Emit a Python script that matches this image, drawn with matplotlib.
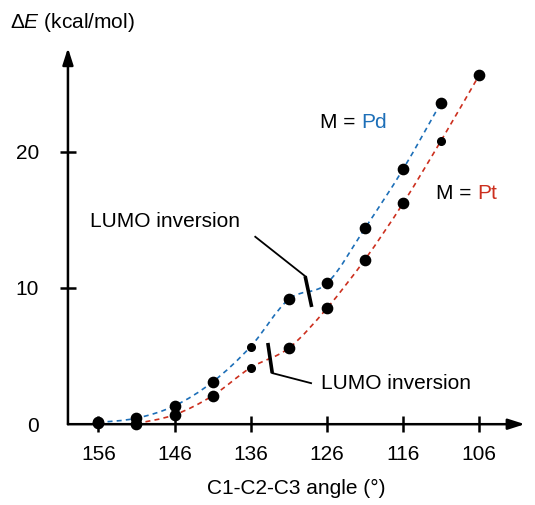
import numpy as np
import matplotlib
matplotlib.use("Agg")
import matplotlib.pyplot as plt
from matplotlib.path import Path
from matplotlib.patches import PathPatch

plt.rcParams['font.family'] = ['Liberation Sans', 'DejaVu Sans']
plt.rcParams['mathtext.fontset'] = 'custom'
plt.rcParams['mathtext.rm'] = 'Liberation Sans'
plt.rcParams['mathtext.it'] = 'Liberation Sans:italic'

# C1-C2-C3 angle (deg) and relative energy (kcal/mol)
pd_angle = [156, 151, 146, 141, 136, 131, 126, 121, 116, 111]
pd_energy = [0.13, 0.44, 1.35, 3.1, 5.7, 9.17, 10.33, 14.37, 18.7, 23.6]
pt_angle = [156, 151, 146, 141, 136, 131, 126, 121, 116, 111, 106]
pt_energy = [0.1, 0.05, 0.69, 2.09, 4.15, 5.58, 8.5, 12.08, 16.2, 20.8, 25.6]
# points drawn with smaller dots
pd_small = [136]
pt_small = [136, 111]

x_ticks = [156, 146, 136, 126, 116, 106]
y_ticks = [0, 10, 20]

pd_color = '#1d6fb8'
pt_color = '#cc2f1e'
fs = 15


def smooth_path(xs, ys):
    # Catmull-Rom curve through the points, as cubic Bezier segments
    p = np.column_stack([xs, ys]).astype(float)
    p = np.vstack([p[0], p, p[-1]])
    verts = [p[1]]
    codes = [Path.MOVETO]
    for i in range(1, len(p) - 2):
        c1 = p[i] + (p[i + 1] - p[i - 1]) / 6
        c2 = p[i + 1] - (p[i + 2] - p[i]) / 6
        verts += [c1, c2, p[i + 1]]
        codes += [Path.CURVE4] * 3
    return Path(verts, codes)


fig = plt.figure(figsize=(5.35, 5.05), dpi=100)
ax = fig.add_axes([0.127, 0.16, 0.854, 0.745])
ax.set_xlim(160, 100)
ax.set_ylim(0, 27.6)

for sp in ax.spines.values():
    sp.set_visible(False)

# axes with arrow heads
arrow = dict(arrowstyle='-|>,head_length=1.0,head_width=0.32', color='black',
             lw=1.8, shrinkA=0, shrinkB=0, mutation_scale=10)
ax.annotate('', xy=(0, 1), xytext=(0, 0), xycoords='axes fraction', arrowprops=arrow)
ax.annotate('', xy=(1, 0), xytext=(0, 0), xycoords='axes fraction', arrowprops=arrow)

# dashed curves through the points
ax.add_patch(PathPatch(smooth_path(pd_angle, pd_energy), fill=False, edgecolor=pd_color,
                       lw=1.2, ls=(0, (3, 2.5))))
ax.add_patch(PathPatch(smooth_path(pt_angle[1:], pt_energy[1:]), fill=False, edgecolor=pt_color,
                       lw=1.2, ls=(0, (3, 2.5))))

for angles, energies, small in [(pd_angle, pd_energy, pd_small), (pt_angle, pt_energy, pt_small)]:
    for a, e in zip(angles, energies):
        ms = 5.5 if a in small else 7.4
        ax.plot(a, e, 'o', color='black', ms=ms, zorder=5, clip_on=False)

ax.set_xticks(x_ticks)
ax.set_yticks(y_ticks)
ax.tick_params(axis='both', direction='inout', length=12, width=1.8, labelsize=fs)
ax.tick_params(axis='x', pad=9)
ax.tick_params(axis='y', pad=15)
ax.yaxis.get_major_ticks()[0].tick1line.set_visible(False)

ax.set_xlabel('C1-C2-C3 angle (°)', fontsize=fs, labelpad=11)
fig.text(0.019, 0.956, 'Δ$\\mathit{E}$ (kcal/mol)', fontsize=fs, va='center', ha='left')

# LUMO inversion markers
ax.plot([128.85, 127.99], [10.86, 8.6], color='black', lw=2.6, solid_capstyle='butt')
ax.plot([135.4, 128.85], [13.75, 10.86], color='black', lw=1.3)
ax.text(157.1, 14.85, 'LUMO inversion', fontsize=fs, va='center', ha='left')

ax.plot([133.75, 133.17], [5.96, 3.75], color='black', lw=2.6, solid_capstyle='butt')
ax.plot([133.17, 128.07], [3.75, 3.01], color='black', lw=1.3)
ax.text(126.76, 2.99, 'LUMO inversion', fontsize=fs, va='center', ha='left')

# series labels
t = ax.text(126.9, 22.1, 'M = ', fontsize=fs, va='center', ha='left')
ax.annotate('Pd', xy=(1, 0.5), xycoords=t, va='center', ha='left', fontsize=fs, color=pd_color)
t = ax.text(111.7, 16.96, 'M = ', fontsize=fs, va='center', ha='left')
ax.annotate('Pt', xy=(1, 0.5), xycoords=t, va='center', ha='left', fontsize=fs, color=pt_color)

fig.savefig('out.png', dpi=100)
